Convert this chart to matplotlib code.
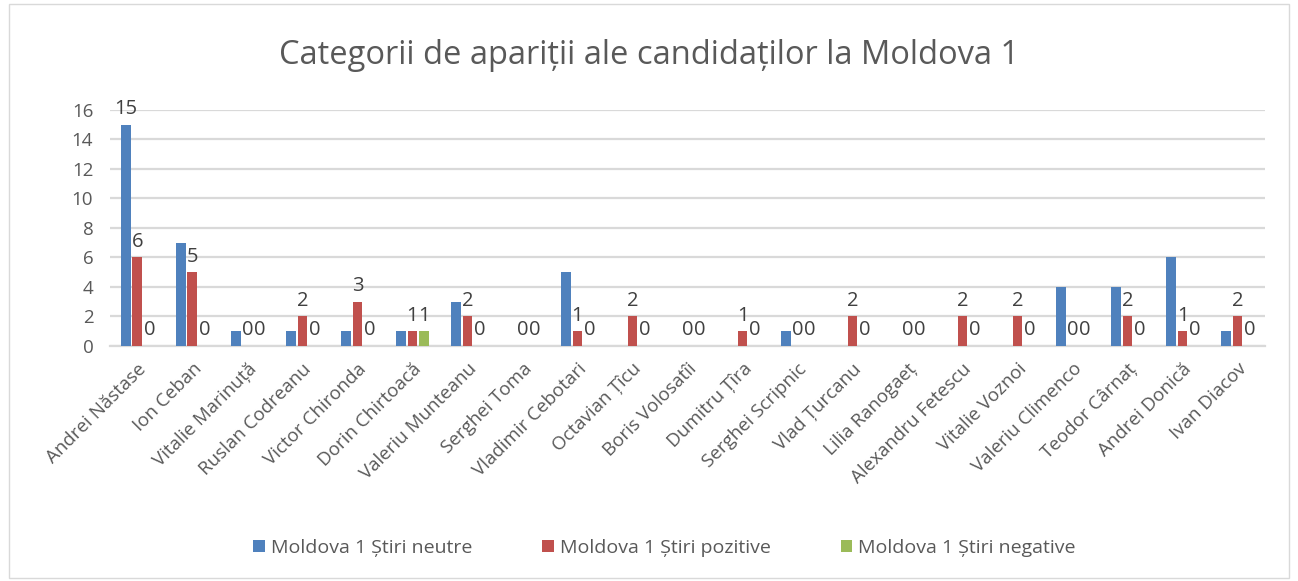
import numpy as np
import matplotlib
matplotlib.use("Agg")
import matplotlib.pyplot as plt
from matplotlib.patches import Rectangle

candidates = [
    "Andrei Năstase", "Ion Ceban", "Vitalie Marinuță", "Ruslan Codreanu",
    "Victor Chironda", "Dorin Chirtoacă", "Valeriu Munteanu", "Serghei Toma",
    "Vladimir Cebotari", "Octavian Țîcu", "Boris Volosatîi", "Dumitru Țîra",
    "Serghei Scripnic", "Vlad Țurcanu", "Lilia Ranogaeț", "Alexandru Fetescu",
    "Vitalie Voznoi", "Valeriu Climenco", "Teodor Cârnaț", "Andrei Donică",
    "Ivan Diacov",
]
neutre = [15, 7, 1, 1, 1, 1, 3, 0, 5, 0, 0, 0, 1, 0, 0, 0, 0, 4, 4, 6, 1]
pozitive = [6, 5, 0, 2, 3, 1, 2, 0, 1, 2, 0, 1, 0, 2, 0, 2, 2, 0, 2, 1, 2]
negative = [0, 0, 0, 0, 0, 1, 0, 0, 0, 0, 0, 0, 0, 0, 0, 0, 0, 0, 0, 0, 0]

series_names = ["Moldova 1 Știri neutre", "Moldova 1 Știri pozitive",
                "Moldova 1 Știri negative"]
colors = ["#4F81BD", "#C0504D", "#9BBB59"]
text_color = "#595959"

plt.rcParams["font.family"] = ["Open Sans", "DejaVu Sans"]

fig = plt.figure(figsize=(12.98, 5.81), dpi=100)
# chart area border
fig.patches.append(Rectangle((0.007, 0.005), 0.986, 0.988, transform=fig.transFigure,
                             fill=False, edgecolor="#D9D9D9", linewidth=1))

ax = fig.add_axes([0.0847, 0.4045, 0.8899, 0.4062])

x = np.arange(len(candidates))
step = 0.216
width = 0.18
all_series = [neutre, pozitive, negative]
for i, (vals, col, name) in enumerate(zip(all_series, colors, series_names)):
    ax.bar(x + (i - 1) * step, vals, width=width, color=col, label=name, zorder=3)

# data labels (Excel shows red & green series, plus the first blue one)
def put_label(xpos, val):
    ax.annotate(str(val), (xpos, val), xytext=(0, 4), textcoords="offset points",
                ha="center", va="bottom", fontsize=14.5, color="#404040",
                annotation_clip=False)

put_label(x[0] - step, neutre[0])
for xi, v in zip(x, pozitive):
    put_label(xi, v)
for xi, v in zip(x, negative):
    put_label(xi + step, v)

ax.set_xlim(-0.5, len(candidates) - 0.5)
ax.set_ylim(0, 16)
ax.set_yticks(range(0, 17, 2))
ax.yaxis.grid(True, color="#D9D9D9", linewidth=1.6, zorder=0)
ax.set_axisbelow(True)
for s in ["top", "right", "left"]:
    ax.spines[s].set_visible(False)
ax.spines["bottom"].set_color("#D9D9D9")
ax.spines["bottom"].set_linewidth(1.6)
ax.tick_params(axis="both", length=0, colors=text_color, labelsize=13.5)
ax.tick_params(axis="y", pad=12)
ax.tick_params(axis="x", pad=10)
ax.set_xticks(x)
ax.set_xticklabels(candidates, rotation=45, ha="right", rotation_mode="anchor",
                   fontsize=13.5, color=text_color)

fig.text(0.5, 0.905, "Categorii de apariții ale candidaților la Moldova 1",
         ha="center", va="center", fontsize=23.5, color=text_color)

handles, labels = ax.get_legend_handles_labels()
fig.legend(handles, labels, loc="center", bbox_to_anchor=(0.512, 0.057), ncol=3,
           frameon=False, fontsize=14, labelcolor=text_color,
           handlelength=0.6, handleheight=0.6, handletextpad=0.3,
           columnspacing=3.6)

fig.savefig("out.png", dpi=100)
plt.close(fig)
